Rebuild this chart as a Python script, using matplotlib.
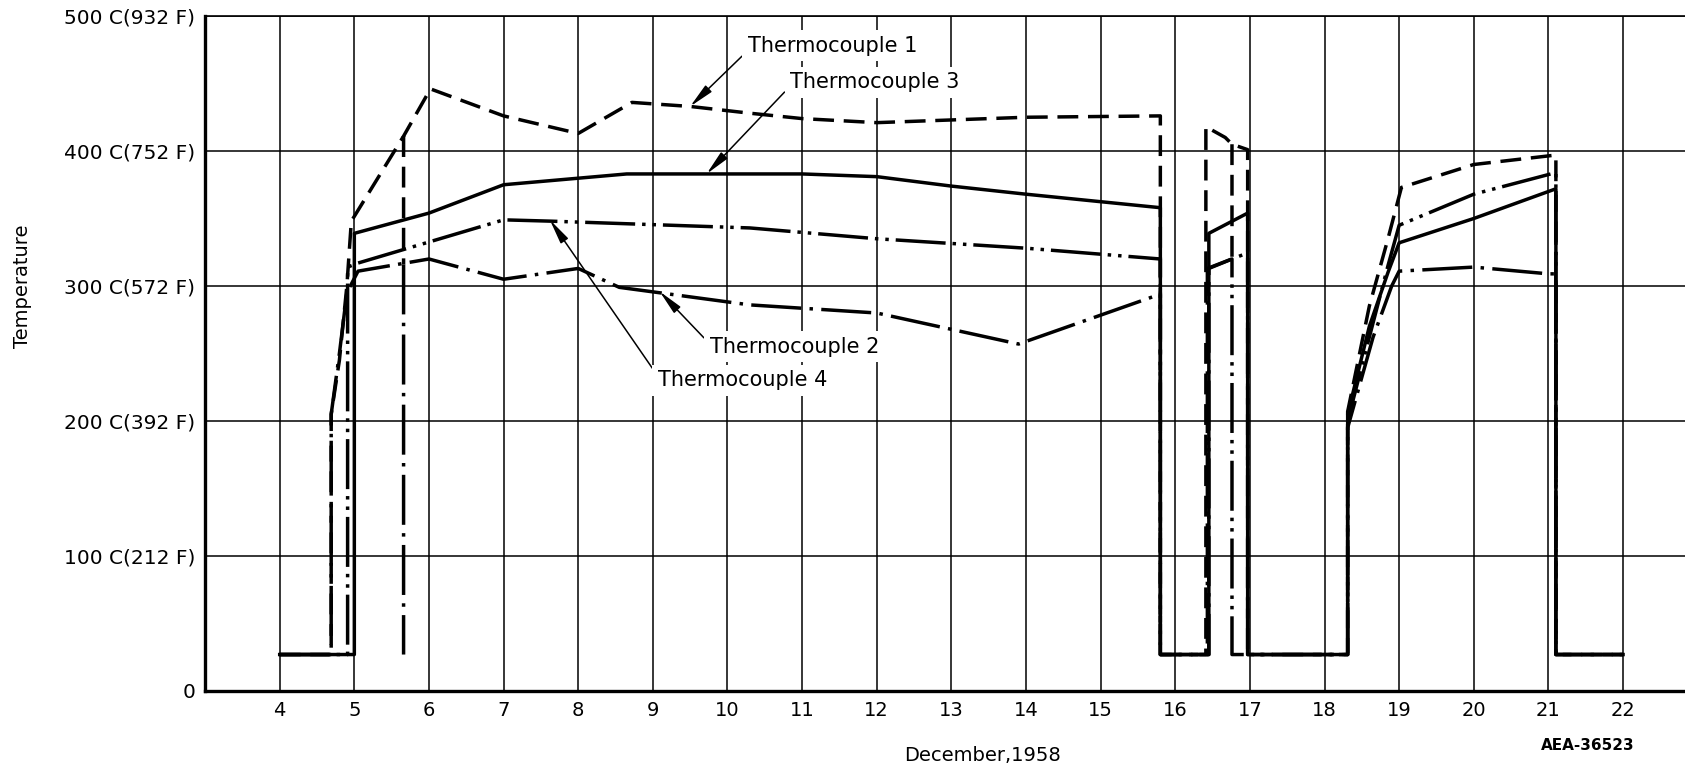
import numpy as np
import matplotlib
matplotlib.use('Agg')
import matplotlib.pyplot as plt

nan = np.nan

# Daten: Tag im Dezember 1958, Temperatur in C
tc1_x = [4, 4.69, 4.69, 4.8, 4.9, 4.96, 5.66, 6.02, 7.0, 8.0, 8.72, 9.5, 10.3, 11.0, 12.0, 13.0, 14.0,
         15.8, 15.8, 16.41, 16.41, 16.67, 16.76, 16.97, 16.97, 18.31, 18.31, 18.6, 18.85, 19.03, 20.0,
         21.1, 21.1, 22.0, nan, 5.66, 5.66, nan, 16.76, 16.76]
tc1_y = [27, 27, 205, 245, 300, 348, 411, 446, 426, 413, 436, 433, 428, 424, 421, 423, 425,
         426, 27, 27, 418, 410, 405, 401, 27, 27, 207, 285, 335, 373, 390,
         397, 27, 27, nan, 411, 316, nan, 405, 320]

tc2_x = [4, 4.69, 4.69, 4.8, 4.9, 5.05, 6.0, 7.0, 8.0, 8.55, 10.3, 12.0, 13.9, 15.75, 15.8, 15.8,
         16.43, 16.43, 16.9, 16.97, 16.97, 18.31, 18.31, 18.65, 18.9, 19.0, 20.0, 21.0, 21.1, 21.1,
         22.0, nan, 5.66, 5.66]
tc2_y = [27, 27, 205, 250, 295, 311, 320, 305, 313, 299, 286, 280, 257, 293, 295, 27,
         27, 313, 323, 323, 27, 27, 195, 262, 300, 311, 314, 309, 309, 27,
         27, nan, 316, 27]

tc3_x = [4, 5.0, 5.0, 6.0, 7.0, 8.65, 10.0, 11.0, 12.0, 13.0, 14.0, 15.8, 15.8, 16.45, 16.45,
         16.97, 16.97, 18.31, 18.31, 18.6, 18.85, 19.0, 20.0, 21.1, 21.1, 22.0]
tc3_y = [27, 27, 339, 354, 375, 383, 383, 383, 381, 374, 368, 358, 27, 27, 339,
         354, 27, 27, 205, 270, 310, 332, 350, 372, 27, 27]

tc4_x = [4, 4.91, 4.91, 5.05, 7.0, 7.65, 10.3, 12.0, 14.0, 15.8, 15.8, 16.45, 16.45, 16.76, 16.76,
         18.31, 18.31, 18.6, 18.85, 19.0, 20.0, 21.1, 21.1, 22.0]
tc4_y = [27, 27, 314, 317, 349, 348, 343, 335, 328, 320, 27, 27, 313, 320, 27,
         27, 200, 262, 315, 345, 368, 384, 27, 27]

days = list(range(4, 23))
y_ticks = [0, 100, 200, 300, 400, 500]
y_labels = ['0', '100 C(212 F)', '200 C(392 F)', '300 C(572 F)', '400 C(752 F)', '500 C(932 F)']

labels = ['Thermocouple 1', 'Thermocouple 3', 'Thermocouple 2', 'Thermocouple 4']
label_pos = [(10.27, 478), (10.84, 451), (9.76, 255), (9.07, 230)]
arrow_tip = [(9.5, 433), (9.72, 383), (9.09, 296), (7.62, 349)]
arrow_rel = [(0, 0.25), (0, 0.3), (0, 0.65), (0, 0.7)]

plt.rcParams['lines.scale_dashes'] = False

fig = plt.figure(figsize=(16.85, 7.73), dpi=100)
ax = fig.add_axes([0.1217, 0.1061, 0.8783, 0.8732])

lw = 2.5
ax.plot(tc2_x, tc2_y, color='black', lw=lw, dashes=(36, 6, 2.5, 6))
ax.plot(tc4_x, tc4_y, color='black', lw=lw, dashes=(36, 5, 2.5, 5, 2.5, 5))
ax.plot(tc1_x, tc1_y, color='black', lw=lw, dashes=(15, 7))
ax.plot(tc3_x, tc3_y, color='black', lw=lw)

ax.set_xlim(3, 22.83)
ax.set_ylim(0, 500)
ax.set_xticks(days)
ax.set_xticklabels([str(d) for d in days], fontsize=14)
ax.set_yticks(y_ticks)
ax.set_yticklabels(y_labels, fontsize=14.5)
ax.tick_params(length=0, pad=7)
ax.grid(True, color='black', lw=1.1)
ax.set_axisbelow(True)

ax.spines['left'].set_linewidth(2.4)
ax.spines['bottom'].set_linewidth(2.4)
ax.spines['top'].set_linewidth(1.2)
ax.spines['right'].set_visible(False)

for text, pos, tip, rel in zip(labels, label_pos, arrow_tip, arrow_rel):
    ax.annotate(text, xy=tip, xytext=pos, ha='left', va='center', fontsize=15, zorder=10,
                bbox=dict(fc='white', ec='none', pad=4),
                arrowprops=dict(arrowstyle='-|>,head_length=1.0,head_width=0.18', lw=1.1,
                                color='black', shrinkA=0, shrinkB=0, relpos=rel))

ax.set_ylabel('Temperature', fontsize=14)
ax.yaxis.set_label_coords(-0.117, 0.6)
fig.text(0.583, 0.023, 'December,1958', ha='center', va='center', fontsize=14)
fig.text(0.942, 0.035, 'AEA-36523', ha='center', va='center', fontsize=11, fontweight='bold')

fig.savefig('out.png', dpi=100)
